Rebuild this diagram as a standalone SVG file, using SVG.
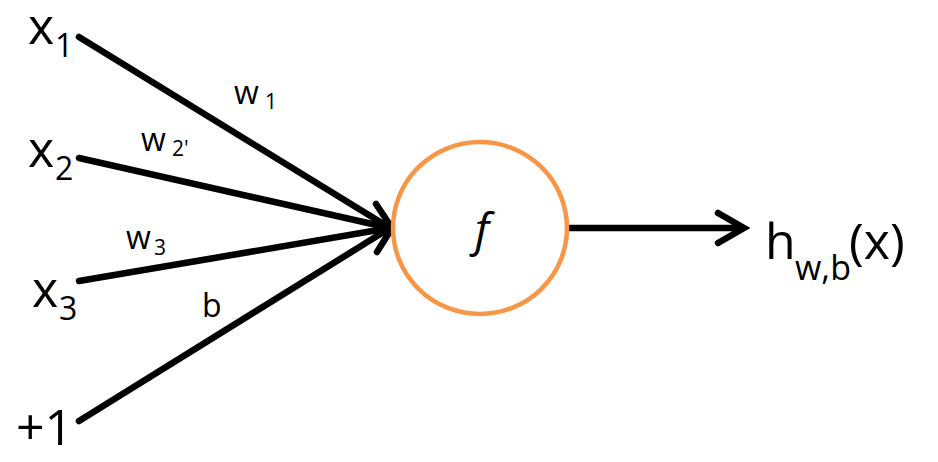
<svg xmlns="http://www.w3.org/2000/svg" width="938" height="462" viewBox="0 0 938 462">
<style>
.t{font-family:"Open Sans","Liberation Sans",sans-serif;fill:#000}
.big{font-size:50px}
.sub{font-size:32px}
.w{font-size:32px}
.ws{font-size:21px}
.ln{stroke:#000;stroke-width:6.5;fill:none;stroke-linecap:round}
.hd{stroke:#000;stroke-width:6.5;fill:none;stroke-linecap:round;stroke-linejoin:miter}
</style>
<rect width="938" height="462" fill="#fff"/>
<g id="connectors">
<line class="ln" x1="79" y1="37" x2="390" y2="228"/>
<line class="ln" x1="79" y1="158" x2="390" y2="228"/>
<line class="ln" x1="79" y1="281" x2="390" y2="228"/>
<line class="ln" x1="79" y1="421" x2="390" y2="228"/>
<polyline class="hd" points="376,204 392,228 377,252"/>
<line class="ln" x1="568" y1="228" x2="742" y2="228"/>
<polyline class="hd" points="718,213 744,228 718,243"/>
<text class="t w" x="234" y="104">w</text><text class="t ws" x="265" y="109">1</text>
<text class="t w" x="141" y="151">w</text><text class="t ws" x="172" y="156">2'</text>
<text class="t w" x="126" y="249">w</text><text class="t ws" x="154" y="255">3</text>
<text class="t w" x="202" y="317">b</text>
</g>
<g id="x1"><text class="t big" x="28" y="44">x</text><text class="t sub" x="55" y="57">1</text></g>
<g id="x2"><text class="t big" x="28" y="167">x</text><text class="t sub" x="55" y="180">2</text></g>
<g id="x3"><text class="t big" x="32" y="307">x</text><text class="t sub" x="59" y="320">3</text></g>
<g id="plus1"><text class="t big" x="16" y="445">+1</text></g>
<g id="neuron">
<ellipse cx="480" cy="228" rx="87" ry="86" fill="#fff" stroke="#F79646" stroke-width="4.5"/>
<text class="t" x="482" y="246" font-size="46" font-style="italic" text-anchor="middle">f</text>
</g>
<g id="output"><text class="t" x="765" y="259" font-size="50">h</text><text class="t" x="795" y="280" font-size="34">w,b</text><text class="t" x="849" y="259" font-size="50">(x)</text></g>
</svg>
